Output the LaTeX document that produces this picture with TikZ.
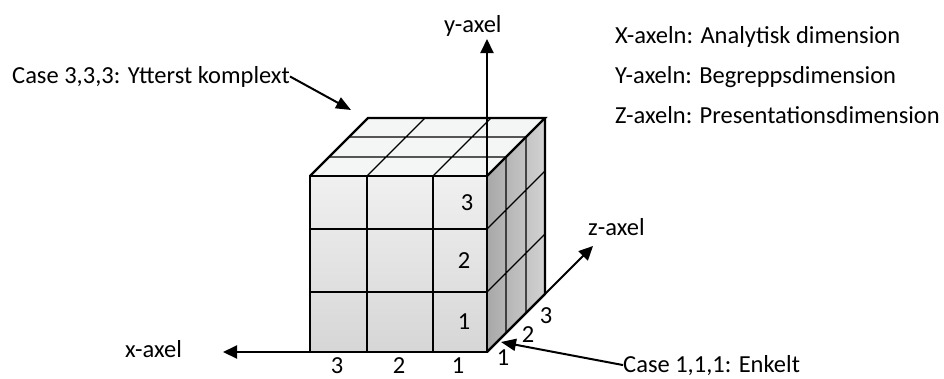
\documentclass[tikz,border=0pt]{standalone}
\usepackage{fontspec}
\setmainfont{Carlito}
\usetikzlibrary{arrows.meta}
\definecolor{topc}{HTML}{F4F6F6}
\definecolor{frontt}{HTML}{F0F0F0}
\definecolor{frontb}{HTML}{D6D6D6}
\definecolor{sidel}{HTML}{A8A8A8}
\definecolor{sider}{HTML}{D2D2D2}
\tikzset{
  edge/.style={line width=2.2pt, line join=miter},
  grid/.style={line width=1.1pt},
  axis/.style={line width=2pt, -{Triangle[length=14pt,width=13pt]}},
  pointer/.style={line width=2pt, -{Triangle[length=15pt,width=12pt]}},
  lbl/.style={font=\fontsize{24.5}{28}\selectfont, inner sep=0pt},
}
\begin{document}
\begin{tikzpicture}[x=1pt,y=-1pt]
\useasboundingbox (0,0) rectangle (944,378);
% cube corners
\coordinate (O) at (487,352);
\coordinate (FL) at (310,352);
\coordinate (FTL) at (310,176);
\coordinate (FTR) at (487,176);
\coordinate (BTL) at (368,118);
\coordinate (BTR) at (545,118);
\coordinate (BBR) at (545,294);
% faces
\fill[top color=frontt, bottom color=frontb] (FL) rectangle (FTR);
\fill[topc] (FTL) -- (BTL) -- (BTR) -- (FTR) -- cycle;
\fill[left color=sidel, right color=sider] (O) -- (FTR) -- (BTR) -- (BBR) -- cycle;
% front grid
\draw[grid] (367,176) -- (367,352) (433,176) -- (433,352)
            (310,229) -- (487,229) (310,292) -- (487,292);
% top grid
\draw[grid] (367,176) -- (425,118) (433,176) -- (491,118)
            (329,157) -- (506,157) (349,137) -- (526,137);
% right grid
\draw[grid] (506,157) -- (506,333) (526,137) -- (526,313)
            (487,229) -- (545,171) (487,292) -- (545,234);
% outline
\draw[edge] (FL) -- (FTL) -- (FTR) -- (O) -- cycle;
\draw[edge] (FTL) -- (BTL) -- (BTR) -- (FTR);
\draw[edge] (BTR) -- (BBR) -- (O);
% axes
\coordinate (xtip) at (223,352);
\coordinate (ytip) at (487,39);
\coordinate (ztip) at (593,246);
\draw[axis] (FL) -- (xtip);
\draw[line width=2pt] (O) -- (FL);
\draw[axis] (FTR) -- (ytip);
\draw[axis] (O) -- (ztip);
% axis labels
\node[lbl, anchor=base west] (xl) at (125,357) {x-axel};
\node[lbl, anchor=base west] (yl) at (444,32) {y-axel};
\node[lbl, anchor=base west] (zl) at (588,235) {z-axel};
% numbers
\node[lbl, anchor=base] (f3) at (467,210) {3};
\node[lbl, anchor=base] (f2) at (464,268) {2};
\node[lbl, anchor=base] (f1) at (464,329) {1};
\node[lbl, anchor=base] (b3) at (337,373) {3};
\node[lbl, anchor=base] (b2) at (399,373) {2};
\node[lbl, anchor=base] (b1) at (458,373) {1};
\node[lbl, anchor=base] (d1) at (503,365) {1};
\node[lbl, anchor=base] (d2) at (528,342) {2};
\node[lbl, anchor=base] (d3) at (546,323) {3};
% case labels
\node[lbl, anchor=base west] (c3) at (12,83) {Case 3,3,3: Ytterst komplext};
\coordinate (c3tip) at (351,110);
\draw[pointer] (c3.east) -- (c3tip);
\node[lbl, anchor=base west] (c1) at (623,372) {Case 1,1,1: Enkelt};
\coordinate (c1tip) at (501,342);
\draw[pointer] (c1.west) -- (c1tip);
% legend
\node[lbl, anchor=base west] (lx) at (615,43) {X-axeln: Analytisk dimension};
\node[lbl, anchor=base west] (ly) at (615,83) {Y-axeln: Begreppsdimension};
\node[lbl, anchor=base west] (lz) at (615,123) {Z-axeln: Presentationsdimension};
\end{tikzpicture}
\end{document}
